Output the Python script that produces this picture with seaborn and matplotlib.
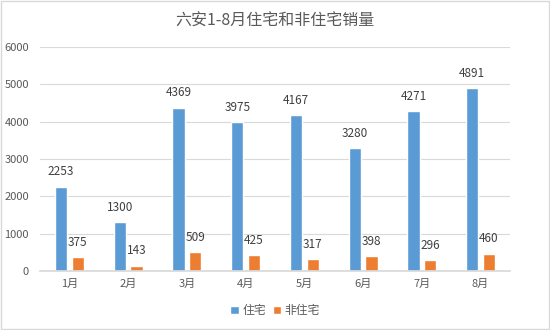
import matplotlib
matplotlib.use("Agg")
import matplotlib.pyplot as plt
import seaborn as sns
import pandas as pd

months = ["1月", "2月", "3月", "4月", "5月", "6月", "7月", "8月"]
residential = [2253, 1300, 4369, 3975, 4167, 3280, 4271, 4891]
non_residential = [375, 143, 509, 425, 317, 398, 296, 460]
series_names = ["住宅", "非住宅"]
title = "六安1-8月住宅和非住宅销量"

df = pd.DataFrame({
    "month": months * 2,
    "value": residential + non_residential,
    "series": [series_names[0]] * len(months) + [series_names[1]] * len(months),
})

sns.set_theme(style="white")
plt.rcParams['font.family'] = ['Noto Sans CJK SC', 'DejaVu Sans']

fig = plt.figure(figsize=(5.5, 3.3), dpi=100)
ax = fig.add_axes([0.073, 0.179, 0.854, 0.679])
palette = {"住宅": "#5B9BD5", "非住宅": "#ED7D31"}
sns.barplot(data=df, x="month", y="value", hue="series", palette=palette,
            width=0.57, gap=0.26, ax=ax, legend=True, saturation=1)

ax.set_ylim(0, 6000)
ax.set_yticks(range(0, 6001, 1000))
ax.yaxis.grid(True, color="#D9D9D9", linewidth=0.8)
ax.set_axisbelow(True)
for s in ["top", "right", "left"]:
    ax.spines[s].set_visible(False)
ax.spines["bottom"].set_color("#D9D9D9")
ax.set_xlabel("")
ax.set_ylabel("")
ax.tick_params(axis="both", colors="#595959", labelsize=8, length=0)
ax.tick_params(axis="x", pad=6)
ax.tick_params(axis="y", pad=8)

for c in ax.containers:
    ax.bar_label(c, labels=[f"{int(v)}" for v in c.datavalues],
                 padding=6, fontsize=8.5, color="#404040")

leg = ax.legend(loc="upper center", bbox_to_anchor=(0.5, -0.1), ncol=2,
                frameon=False, fontsize=8.5, handlelength=0.7, handleheight=0.7,
                handletextpad=0.3, columnspacing=0.6)
for t in leg.get_texts():
    t.set_color("#595959")

fig.text(0.5, 0.935, title, ha="center", va="center", fontsize=11.5, color="#595959")

fig.patches.append(plt.Rectangle((0.002, 0.003), 0.996, 0.994, transform=fig.transFigure,
                                 fill=False, edgecolor="#D9D9D9", linewidth=1))

fig.savefig("out.png", dpi=100, facecolor="white")
